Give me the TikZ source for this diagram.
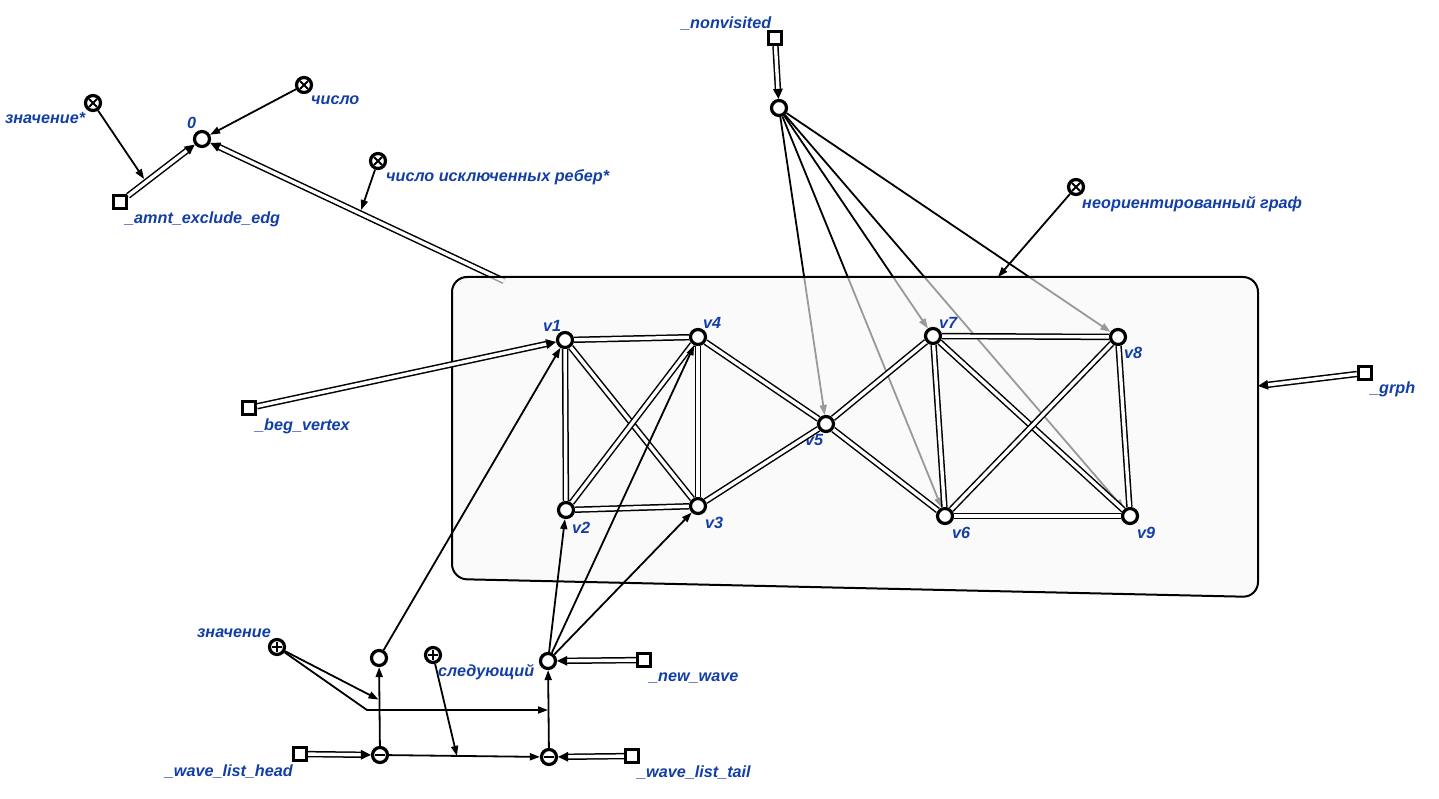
\documentclass[tikz,border=0pt]{standalone}
\usepackage{fontspec}
\setmainfont{Liberation Sans}
\usetikzlibrary{arrows.meta,calc}
\definecolor{lblc}{RGB}{18,62,165}
\pgfdeclarelayer{under}
\pgfdeclarelayer{panel}
\pgfsetlayers{under,panel,main}
\tikzset{
  x=1pt, y=-1pt,
  lbl/.style={text=lblc, font=\bfseries\itshape\fontsize{16.2}{18}\selectfont, inner sep=0, anchor=base west},
  vtx/.style={circle, draw, line width=3.2pt, fill=white, minimum size=15pt, inner sep=0},
  sqn/.style={rectangle, draw, line width=3.2pt, fill=white, minimum size=13pt, inner sep=0},
  xcls/.style={vtx, path picture={\draw[line width=1.8pt] (path picture bounding box.center) +(-4,-4) -- +(4,4) +(-4,4) -- +(4,-4);}},
  pcls/.style={vtx, path picture={\draw[line width=1.6pt] (path picture bounding box.center) +(-5,0) -- +(5,0) +(0,-5) -- +(0,5);}},
  mcls/.style={vtx, path picture={\draw[line width=1.6pt] (path picture bounding box.center) +(-5,0) -- +(5,0);}},
  arr/.style={draw, line width=1.8pt, -{Triangle[length=10pt,width=7pt]}},
  darr/.style={draw, line width=1.5pt, double=white, double distance=3.4pt, -{Triangle[length=10pt,width=9.5pt]}},
  dedge/.style={draw, line width=1.5pt, double=white, double distance=3.4pt},
}
\begin{document}
\begin{tikzpicture}
\useasboundingbox (0,0) rectangle (1439,799);

% ---- nodes ----
\node[xcls] (zvs) at (93,103) {};
\node[vtx]  (zero) at (202,139) {};
\node[xcls] (chs) at (304,85) {};
\node[sqn]  (amnt) at (120,202) {};
\node[xcls] (cex) at (378,161) {};
\node[sqn]  (nvs) at (775,38) {};
\node[vtx]  (nvc) at (779,108) {};
\node[xcls] (ug) at (1076,187) {};
\node[sqn]  (grph) at (1365,373) {};
\node[sqn]  (beg) at (249,408) {};

\node[vtx] (v1) at (565,340) {};
\node[vtx] (v4) at (698,337) {};
\node[vtx] (v2) at (566,510) {};
\node[vtx] (v3) at (698,506) {};
\node[vtx] (v5) at (826,424) {};
\node[vtx] (v7) at (933,336) {};
\node[vtx] (v8) at (1118,337) {};
\node[vtx] (v6) at (945,516) {};
\node[vtx] (v9) at (1130,516) {};

\node[pcls] (zn) at (277,647) {};
\node[vtx]  (wc1) at (379,658) {};
\node[pcls] (sl) at (433,655) {};
\node[vtx]  (wc2) at (548,661) {};
\node[sqn]  (nw) at (644,660) {};
\node[mcls] (wh) at (380,755) {};
\node[mcls] (wt) at (549,757) {};
\node[sqn]  (whs) at (300,754) {};
\node[sqn]  (wts) at (632,756) {};

% ---- labels ----
\node[lbl] (lzvs) at (5,124) {значение*};
\node[lbl] (lzero) at (187,129) {0};
\node[lbl] (lchs) at (311,105) {число};
\node[lbl] (lamnt) at (125,224) {\_amnt\_exclude\_edg};
\node[lbl] (lcex) at (386,182) {число исключенных ребер*};
\node[lbl] (lnvs) at (681,29) {\_nonvisited};
\node[lbl] (lug) at (1082,209) {неориентированный граф};
\node[lbl] (lgrph) at (1370,393) {\_grph};
\node[lbl] (lbeg) at (255,430) {\_beg\_vertex};
\node[lbl] (lv1) at (543,331) {v1};
\node[lbl] (lv4) at (703,328) {v4};
\node[lbl] (lv2) at (572,533) {v2};
\node[lbl] (lv3) at (705,528) {v3};
\node[lbl] (lv5) at (805,445) {v5};
\node[lbl] (lv7) at (939,328) {v7};
\node[lbl] (lv8) at (1124,358) {v8};
\node[lbl] (lv6) at (952,538) {v6};
\node[lbl] (lv9) at (1137,538) {v9};
\node[lbl] (lzn) at (197,637) {значение};
\node[lbl] (lsl) at (438,676) {следующий};
\node[lbl] (lnw) at (649,681) {\_new\_wave};
\node[lbl, anchor=base east] (lwh) at (293,776) {\_wave\_list\_head};
\node[lbl] (lwt) at (637,777) {\_wave\_list\_tail};

% ---- graph panel ----
\coordinate (gtop0) at (504,281);
\coordinate (gtop1) at (998,277);
\coordinate (gright) at (1258,386);
\begin{pgfonlayer}{panel}
  \draw[line width=2pt, fill=white!97!black, fill opacity=0.62, rounded corners=15pt]
    (452,277) -- (1258,277) -- (1258,597) -- (452,579) -- cycle;
\end{pgfonlayer}

% connectors running beneath the panel
\begin{pgfonlayer}{under}
  \draw[darr] (gtop0) -- (zero);
  \foreach \v in {v5,v6,v7,v8,v9} \draw[arr] (nvc) -- (\v);
\end{pgfonlayer}

% ---- upper left ----
\path (gtop0) -- (zero) coordinate[pos=0.49] (m1);
\path (amnt) -- (zero) coordinate[pos=0.27] (m2);
\draw[darr] (amnt) -- (zero);
\draw[arr] (chs) -- (zero);
\draw[arr, shorten >=3.5pt] (cex) -- (m1);
\draw[arr, shorten >=3.5pt] (zvs) -- (m2);

% ---- top / right ----
\draw[darr] (nvs) -- (nvc);
\draw[arr] (ug) -- (gtop1);
\draw[darr] (grph) -- (gright);
\draw[darr] (beg) -- (v1);

% ---- graph edges ----
\foreach \a/\b in {v1/v4, v1/v2, v1/v3, v4/v2, v4/v3, v2/v3, v4/v5, v3/v5,
                   v5/v7, v5/v6, v7/v8, v7/v6, v7/v9, v8/v6, v8/v9, v6/v9}
  \draw[dedge] (\a) -- (\b);

% ---- wave list ----
\draw[arr] (wc1) -- (v1);
\draw[arr] (wc2) -- (v2);
\draw[arr] (wc2) -- (v3);
\draw[arr] (wc2) -- (v4);
\draw[darr] (nw) -- (wc2);
\draw[darr] (whs) -- (wh);
\draw[darr] (wts) -- (wt);
\draw[arr] (wh) -- (wc1);
\draw[arr] (wt) -- (wc2);
\draw[arr] (wh) -- (wt);

\coordinate (bend) at (367,710);
\coordinate (t1) at ($(wh)!0.567!(wc1)$);
\coordinate (t2) at (wt |- bend);
\coordinate (t3) at ($(wh)!0.455!(wt)$);
\draw[arr, shorten >=1pt] (zn) -- (t1);
\draw[arr, shorten >=1pt] (zn) -- (bend) -- (t2);
\draw[arr] (sl) -- (t3);
\end{tikzpicture}
\end{document}
